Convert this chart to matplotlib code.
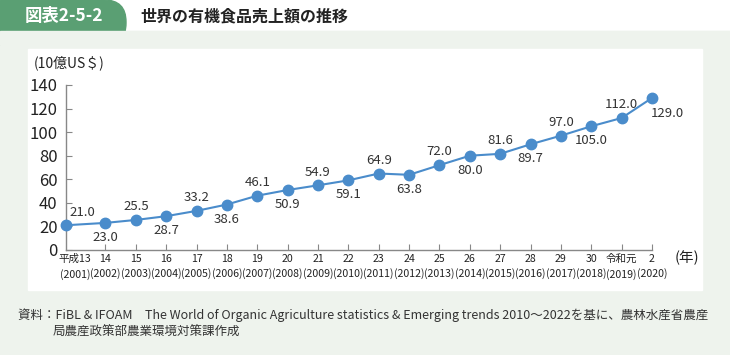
import matplotlib.pyplot as plt
from matplotlib.patches import Rectangle, FancyBboxPatch

plt.rcParams['font.family'] = ['Noto Sans CJK JP', 'DejaVu Sans']

ERA = ["平成13", "14", "15", "16", "17", "18", "19", "20", "21", "22",
       "23", "24", "25", "26", "27", "28", "29", "30", "令和元", "2"]
YEARS = list(range(2001, 2021))
SALES = [21.0, 23.0, 25.5, 28.7, 33.2, 38.6, 46.1, 50.9, 54.9, 59.1,
         64.9, 63.8, 72.0, 80.0, 81.6, 89.7, 97.0, 105.0, 112.0, 129.0]
YTICKS = [0, 20, 40, 60, 80, 100, 120, 140]

fig = plt.figure(figsize=(7.3, 3.55), dpi=100)
fig.patch.set_facecolor("white")

# page background and white panel
fig.patches.append(Rectangle((0, 0), 1, 1 - 31/355, transform=fig.transFigure,
                             color="#eef3ed", zorder=0))
fig.patches.append(Rectangle((28/730, 1 - 290/355), 674/730, 241/355,
                             transform=fig.transFigure, color="white", zorder=1))
# header tab
fig.patches.append(FancyBboxPatch((-20/730, 1 - 45/355), 146/730, 45/355,
                                  boxstyle="round,pad=0,rounding_size=0.03",
                                  transform=fig.transFigure, color="#5a9f73",
                                  zorder=1, mutation_aspect=730/355))
fig.patches.append(Rectangle((0, 1 - 45/355), 1, 14/355, transform=fig.transFigure,
                             color="#eef3ed", zorder=2))
fig.text(25/730, 1 - 16/355, "図表2-5-2", color="white", fontsize=12.5,
         fontweight="bold", va="center", ha="left")
fig.text(140/730, 1 - 16/355, "世界の有機食品売上額の推移", color="#222222",
         fontsize=11.5, fontweight="bold", va="center", ha="left")

ax = fig.add_axes([66/730, 1 - 250/355, 586/730, 165/355])
ax.set_zorder(5)
ax.set_facecolor("none")
X0 = -0.3
ax.set_xlim(X0, len(SALES) - 1)
ax.set_ylim(0, 140)

x = list(range(len(SALES)))
xp = [X0] + x[1:]  # first point sits on the y axis, as in the original
ax.plot(xp, SALES, color="#4a8ccb", lw=1.5, marker="o", ms=7.5, zorder=3,
        clip_on=False)

for i, v in enumerate(SALES):
    if i == 0:
        off = (12, 9); ha = "center"
    elif i == len(SALES) - 1:
        off = (-1, -11.5); ha = "left"
    elif i % 2 == 0:
        off = (0, 9.5); ha = "center"
    else:
        off = (0, -10.5); ha = "center"
    ax.annotate(f"{v:.1f}", (xp[i], v), xytext=off, textcoords="offset points",
                ha=ha, va="center", fontsize=9.5, color="#333333")

ax.set_yticks(YTICKS)
ax.tick_params(axis="y", direction="in", length=4, labelsize=12,
               colors="#888888", labelcolor="#222222", pad=6)
ax.set_xticks(x)
ax.set_xticklabels([f"{e}\n({y})" for e, y in zip(ERA, YEARS)], fontsize=7.6,
                   color="#222222", linespacing=1.5)
ax.tick_params(axis="x", direction="in", length=4, colors="#888888",
               labelcolor="#222222", pad=3)
ax.xaxis.get_major_ticks()[0].tick1line.set_visible(False)
for s in ["top", "right"]:
    ax.spines[s].set_visible(False)
for s in ["left", "bottom"]:
    ax.spines[s].set_color("#888888")
    ax.spines[s].set_linewidth(1.0)

fig.text(34/730, 1 - 63/355, "(10億US＄)", fontsize=10, color="#222222",
         va="center", ha="left")
fig.text(675/730, 1 - 258/355, "(年)", fontsize=10.5, color="#222222",
         va="center", ha="left")

fig.text(18/730, 1 - 315/355,
         "資料：FiBL & IFOAM　The World of Organic Agriculture statistics & Emerging trends 2010～2022を基に、農林水産省農産",
         fontsize=9.0, color="#333333", va="center", ha="left")
fig.text(53/730, 1 - 332/355, "局農産政策部農業環境対策課作成",
         fontsize=9.0, color="#333333", va="center", ha="left")

fig.savefig("out.png", dpi=100)
